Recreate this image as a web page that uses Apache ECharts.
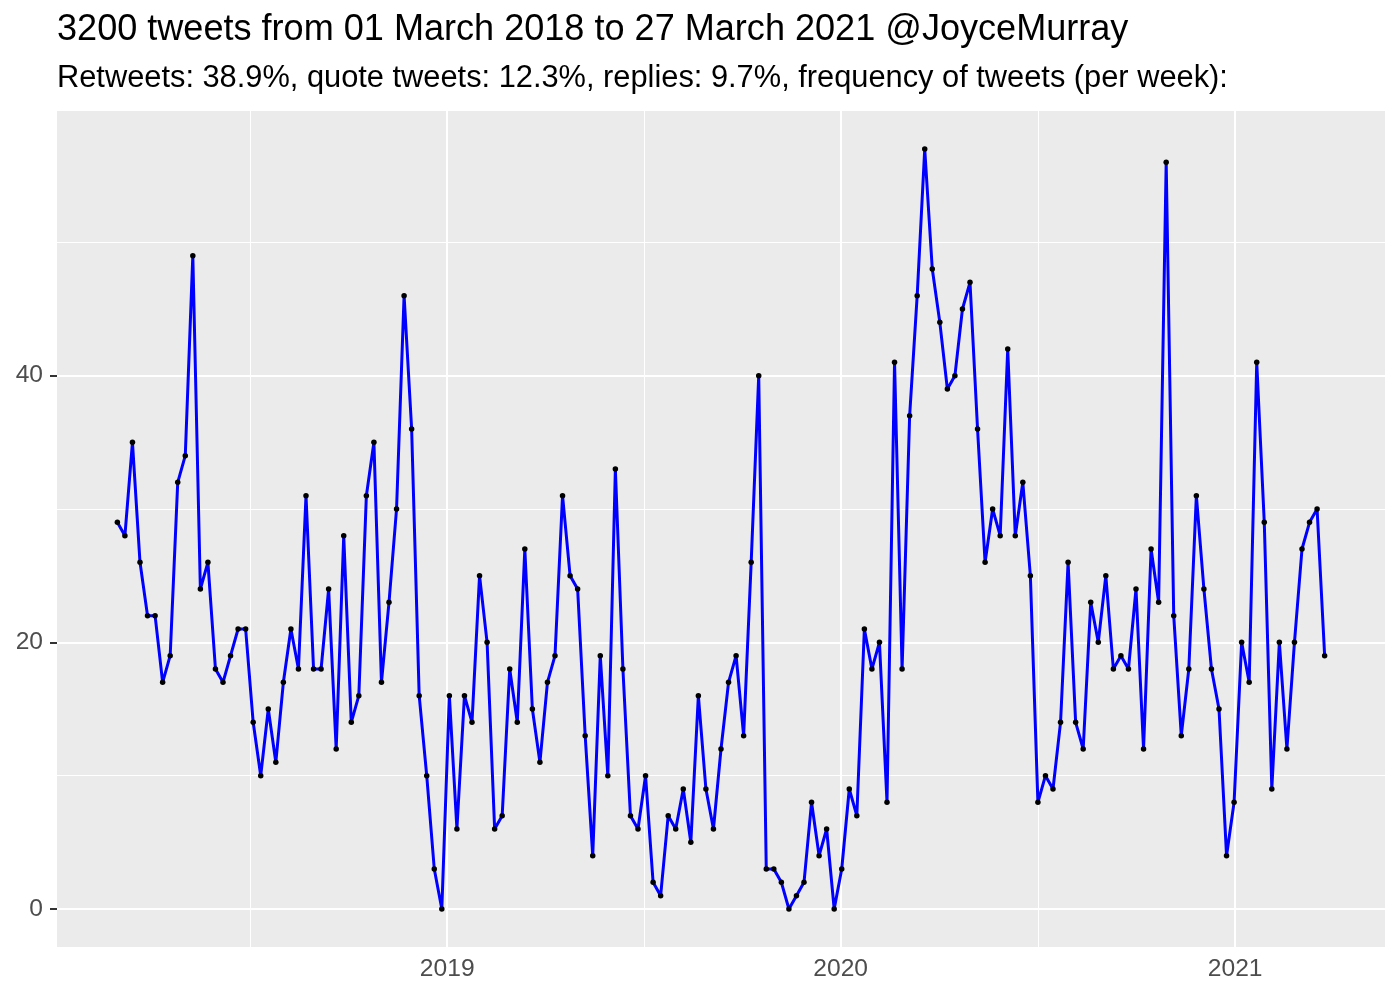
<!DOCTYPE html>
<html>
<head>
<meta charset="utf-8">
<script src="https://cdn.jsdelivr.net/npm/echarts@6/dist/echarts.min.js"></script>
<style>
html,body{margin:0;padding:0;background:#ffffff;}
#chart{width:1400px;height:1000px;}
</style>
</head>
<body>
<div id="chart"></div>
<script>
// ---- chart data ----
const titleText = '3200 tweets from 01 March 2018 to 27 March 2021 @JoyceMurray';
const subtitleText = 'Retweets: 38.9%, quote tweets: 12.3%, replies: 9.7%, frequency of tweets (per week):';

const firstWeek = '2018-03-01';   // weekly bins, one every 7 days
const weeklyCounts = [
  29,28,35,26,22,22,17,19,32,34,
  49,24,26,18,17,19,21,21,14,10,
  15,11,17,21,18,31,18,18,24,12,
  28,14,16,31,35,17,23,30,46,36,
  16,10,3,0,16,6,16,14,25,20,
  6,7,18,14,27,15,11,17,19,31,
  25,24,13,4,19,10,33,18,7,6,
  10,2,1,7,6,9,5,16,9,6,
  12,17,19,13,26,40,3,3,2,0,
  1,2,8,4,6,0,3,9,7,21,
  18,20,8,41,18,37,46,57,48,44,
  39,40,45,47,36,26,30,28,42,28,
  32,25,8,10,9,14,26,14,12,23,
  20,25,18,19,18,24,12,27,23,56,
  22,13,18,31,24,18,15,4,8,20,
  17,41,29,9,20,12,20,27,29,30,
  19
];

const yTickLabels = [0, 20, 40];
const yMinorBreaks = [10, 30, 50];
const xTickLabels = ['2019', '2020', '2021'];
const xMinorBreaks = ['2018-07-02T12:00:00Z', '2019-07-02T12:00:00Z', '2020-07-02T00:00:00Z'];
const xRange = ['2018-01-04', '2021-05-20'];
const yRange = [-2.85, 59.85];

// ---- build ----
const DAY = 86400000;
const t0 = Date.parse(firstWeek + 'T00:00:00Z');
const weekDates = weeklyCounts.map((_, i) => t0 + i * 7 * DAY);
const seriesData = weeklyCounts.map((v, i) => [weekDates[i], v]);
const xTickValues = xTickLabels.map(y => Date.UTC(+y, 0, 1));
const xMinorValues = xMinorBreaks.map(s => Date.parse(s));

const FONT = 'Liberation Sans, Arial, Helvetica, sans-serif';
const majorGrid = {color: '#ffffff', width: 2, type: 'solid'};
const minorGrid = {color: '#ffffff', width: 1, type: 'solid'};

const gridLines = []
  .concat(yMinorBreaks.map(v => ({yAxis: v, lineStyle: minorGrid})))
  .concat(xMinorValues.map(v => ({xAxis: v, lineStyle: minorGrid})))
  .concat(yTickLabels.map(v => ({yAxis: v, lineStyle: majorGrid})))
  .concat(xTickValues.map(v => ({xAxis: v, lineStyle: majorGrid})));

const chart = echarts.init(document.getElementById('chart'), null, {renderer: 'canvas'});
const option = {
  animation: false,
  backgroundColor: '#ffffff',
  textStyle: {fontFamily: FONT},
  grid: {left: 57, right: 15, top: 111, bottom: 53, show: true, backgroundColor: '#EBEBEB', borderWidth: 0},
  graphic: [
    {type: 'text', x: 57, y: 30.5, silent: true,
     style: {text: titleText, x: 0, y: 0, font: '36.1px ' + FONT, fill: '#000000', align: 'left', verticalAlign: 'middle'}},
    {type: 'text', x: 57, y: 78.5, silent: true,
     style: {text: subtitleText, x: 0, y: 0, font: '30.8px ' + FONT, fill: '#000000', align: 'left', verticalAlign: 'middle'}}
  ],
  xAxis: {
    type: 'value',
    min: Date.parse(xRange[0] + 'T00:00:00Z'),
    max: Date.parse(xRange[1] + 'T00:00:00Z'),
    axisLine: {show: false},
    splitLine: {show: false},
    axisTick: {show: true, length: 7, customValues: xTickValues, lineStyle: {color: '#333333', width: 2}},
    axisLabel: {
      show: true, customValues: xTickValues, margin: 10,
      fontSize: 24.6, lineHeight: 24.6, color: '#4D4D4D', fontFamily: FONT,
      formatter: v => String(new Date(v).getUTCFullYear())
    }
  },
  yAxis: {
    type: 'value',
    min: yRange[0],
    max: yRange[1],
    axisLine: {show: false},
    splitLine: {show: false},
    axisTick: {show: true, length: 7, customValues: yTickLabels, lineStyle: {color: '#333333', width: 2}},
    axisLabel: {
      show: true, customValues: yTickLabels, margin: 14,
      fontSize: 24.6, lineHeight: 24.6, color: '#4D4D4D', fontFamily: FONT,
      formatter: v => String(v)
    }
  },
  series: [
    {
      type: 'line', data: [], z: 1, silent: true,
      markLine: {silent: true, symbol: ['none', 'none'], label: {show: false}, animation: false, data: gridLines}
    },
    {
      type: 'line', data: seriesData, z: 5,
      lineStyle: {color: '#0000FF', width: 3},
      itemStyle: {color: '#000000'},
      symbol: 'circle', symbolSize: 5.5, showSymbol: true,
      emphasis: {disabled: true}
    }
  ]
};
chart.setOption(option);
</script>
</body>
</html>
